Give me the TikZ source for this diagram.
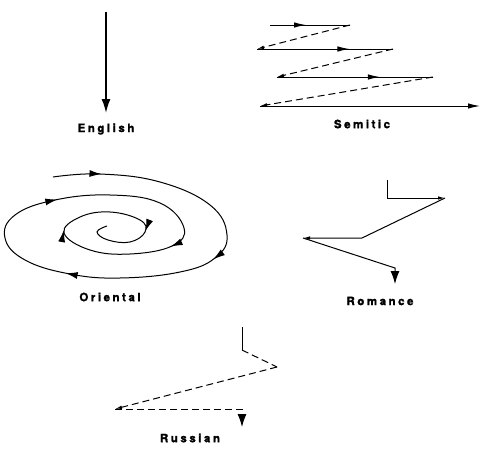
\documentclass[tikz,border=0pt]{standalone}
\usepackage{fontspec}
\newfontfamily\lblfont[LetterSpace=22,FakeBold=1.5]{TeX Gyre Heros}
\usetikzlibrary{arrows.meta,decorations.markings}
\begin{document}
\begin{tikzpicture}[x=1pt,y=-1pt,
  lab/.style={font=\lblfont\bfseries\fontsize{11.5}{13}\selectfont, inner sep=0pt},
  ln/.style={line width=1pt},
  dsh/.style={line width=1pt, dash pattern=on 7pt off 4pt},
  smalltip/.style={-{Latex[length=7pt,width=3.5pt]}},
  bigtip/.style={-{Latex[length=13pt,width=9pt]}},
  sptip/.tip={Latex[length=12pt,width=7pt]},
  midarrow/.style={postaction=decorate, decoration={markings,
     mark=at position #1 with {\arrow{Latex[length=12pt,width=5.5pt]}}}}
]
\useasboundingbox (0,0) rectangle (485,453);
% English
\coordinate (e1) at (106,12);
\coordinate (e2) at (106,113);
\draw[line width=1.6pt, -{Latex[length=14pt,width=9pt]}] (e1) -- (e2);
\node[lab] (english) at (106,129) {English};
% Semitic
\coordinate (s1) at (270,25);
\coordinate (s2) at (350,25);
\coordinate (s3) at (257,49);
\coordinate (s4) at (393,49);
\coordinate (s5) at (277,77);
\coordinate (s6) at (433,77);
\coordinate (s7) at (260,106);
\coordinate (s8) at (480,106);
\draw[ln, midarrow=0.45] (s1) -- (s2);
\draw[dsh, smalltip] (s2) -- (s3);
\draw[ln, midarrow=0.68] (s3) -- (s4);
\draw[dsh, smalltip] (s4) -- (s5);
\draw[ln, midarrow=0.66] (s5) -- (s6);
\draw[dsh, smalltip] (s6) -- (s7);
\draw[ln, -{Latex[length=12pt,width=5.5pt]}] (s7) -- (s8);
\node[lab] (semitic) at (362,124) {Semitic};
% Oriental
\draw[ln, postaction=decorate, decoration={markings,
   mark=at position 0.05 with {\arrow{sptip}},
   mark=at position 0.235 with {\arrow{sptip}},
   mark=at position 0.39 with {\arrow{sptip}},
   mark=at position 0.54 with {\arrow{sptip}},
   mark=at position 0.71 with {\arrow{sptip}},
   mark=at position 0.83 with {\arrow{sptip}},
   mark=at position 0.93 with {\arrow{sptip}}}]
  plot[smooth, tension=0.7] coordinates {
  (53,177) (100,174) (160,182) (210,205) (227,235) (215,258) (180,272)
  (120,278) (70,274) (25,260) (5,238) (15,215) (55,200) (110,195)
  (160,203) (184,228) (172,246) (130,254) (90,250) (64,233) (80,217)
  (110,212) (140,220) (145,232) (130,242) (108,240) (97,232) (107,226)};
\node[lab] (oriental) at (110,297) {Oriental};
% Romance
\coordinate (r1) at (387,180);
\coordinate (r2) at (387,198);
\coordinate (r3) at (445,198);
\coordinate (r4) at (362,238);
\coordinate (r5) at (303,238);
\coordinate (r6) at (395,268);
\coordinate (r7) at (395,284);
\draw[ln, smalltip] (r1) -- (r2) -- (r3);
\draw[ln, smalltip] (r3) -- (r4) -- (r5);
\draw[ln, bigtip] (r5) -- (r6) -- (r7);
\node[lab] (romance) at (380,301) {Romance};
% Russian
\coordinate (u1) at (242,327);
\coordinate (u2) at (242,350);
\coordinate (u3) at (277,367);
\coordinate (u4) at (115,409);
\coordinate (u5) at (242,409);
\coordinate (u6) at (242,427);
\draw[ln] (u1) -- (u2);
\draw[dsh] (u2) -- (u3);
\draw[dsh, smalltip] (u3) -- (u4);
\draw[dsh, bigtip] (u4) -- (u5) -- (u6);
\node[lab] (russian) at (190,438) {Russian};
\end{tikzpicture}
\end{document}
